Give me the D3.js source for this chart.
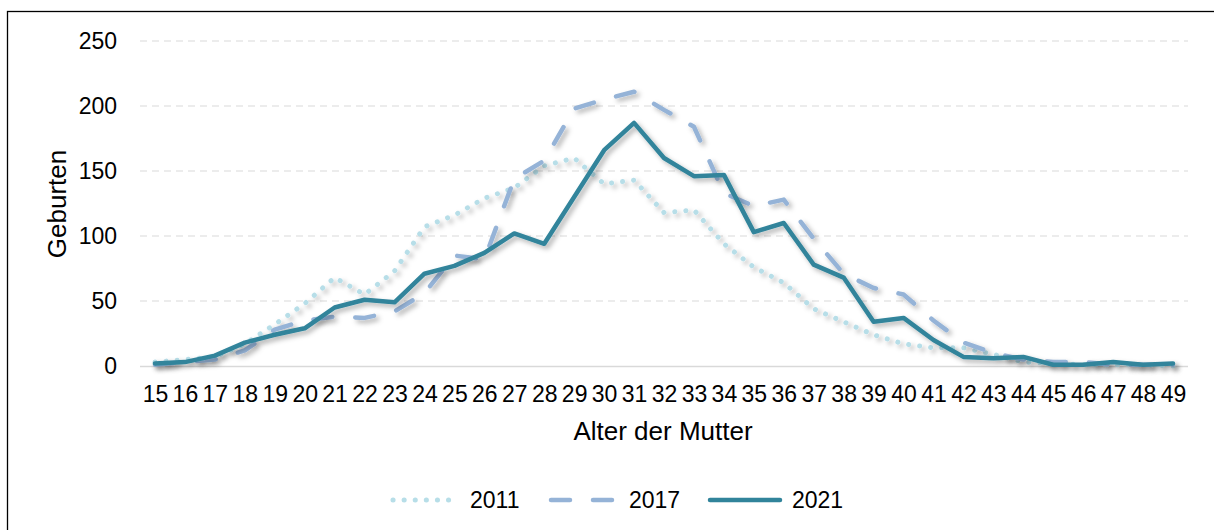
<!DOCTYPE html>
<html>
<head>
<meta charset="utf-8">
<script src="https://cdn.jsdelivr.net/npm/d3@7"></script>
<style>
    body { margin: 0; background: #fff; }
    svg { display: block; font-family: "Liberation Sans", Arial, sans-serif; }
</style>
</head>
<body>
<div class="births_by_age"></div>
<script>
// data
const ages = d3.range(15, 50).map(String);
const years = ["2011", "2017", "2021"];
const births_2011 = [3, 5, 7, 17, 32, 48, 68, 55, 73, 107, 116, 129, 137, 154, 160, 140, 143, 118, 120, 94, 76, 64, 44, 34, 24, 17, 14, 14, 9, 3, 2, 1, 1, 1, 0];
const births_2017 = [1, 3, 5, 12, 28, 35, 38, 37, 42, 56, 85, 82, 144, 158, 198, 205, 211, 197, 184, 133, 123, 128, 98, 71, 60, 55, 35, 18, 10, 5, 3, 3, 1, 1, 1];
const births_2021 = [2, 3, 8, 18, 24, 29, 45, 51, 49, 71, 77, 87, 102, 94, 130, 166, 187, 160, 146, 147, 103, 110, 78, 68, 34, 37, 20, 7, 6, 7, 1, 1, 3, 1, 2];
const y_ticks = [0, 50, 100, 150, 200, 250];

const render_births = (name, config) => {
    let d3_container = `.${name}`;
    d3.select(`${d3_container} > *`).remove();

    const width = config.width, height = config.height;
    const plot = { left: 140, right: 1188, top: 41, bottom: 366 };

    let svg = d3.select(d3_container).append('svg')
        .attr("width", width)
        .attr("height", height);

    // drop shadow like the office chart
    svg.append("defs").append("filter")
        .attr("id", "shadow")
        .attr("x", "-5%").attr("y", "-10%")
        .attr("width", "110%").attr("height", "130%")
        .append("feDropShadow")
            .attr("dx", 3).attr("dy", 3)
            .attr("stdDeviation", 2.5)
            .attr("flood-color", "#000")
            .attr("flood-opacity", 0.3);

    // frame
    svg.append("rect")
        .attr("x", 7.5).attr("y", 11.5)
        .attr("width", width).attr("height", height)
        .attr("fill", "none")
        .attr("stroke", "#000")
        .attr("stroke-width", 1.3);

    const x = d3.scalePoint()
        .domain(ages)
        .range([plot.left, plot.right])
        .padding(0.5);

    const y = d3.scaleLinear()
        .domain([0, 250])
        .range([plot.bottom, plot.top]);

    // grid lines
    svg.append("g")
        .selectAll("line")
        .data(y_ticks.filter(t => t > 0))
        .join("line")
            .attr("x1", plot.left).attr("x2", plot.right)
            .attr("y1", d => y(d)).attr("y2", d => y(d))
            .attr("stroke", "#d9d9d9")
            .attr("stroke-width", 1)
            .attr("stroke-dasharray", "7 5");

    // Y axis
    let y_axis = svg.append("g")
        .attr("transform", `translate(${plot.left},0)`)
        .call(d3.axisLeft(y).tickValues(y_ticks).tickSize(0).tickPadding(23));
    y_axis.select(".domain").remove();
    y_axis.selectAll("text")
        .attr("font-size", 23)
        .attr("font-family", "Liberation Sans, Arial, sans-serif")
        .attr("fill", "#000");

    // X axis
    let x_axis = svg.append("g")
        .attr("transform", `translate(0,${plot.bottom})`)
        .call(d3.axisBottom(x).tickSize(0).tickPadding(20));
    x_axis.select(".domain")
        .attr("d", `M${plot.left},0.5H${plot.right}`)
        .attr("stroke", "#d9d9d9")
        .attr("stroke-width", 1.5);
    x_axis.selectAll("text")
        .attr("font-size", 23)
        .attr("font-family", "Liberation Sans, Arial, sans-serif")
        .attr("fill", "#000");

    // axis titles
    svg.append("text")
        .attr("x", 663)
        .attr("y", 440)
        .attr("text-anchor", "middle")
        .attr("font-size", 26)
        .text("Alter der Mutter");

    svg.append("text")
        .attr("transform", `translate(66,204) rotate(-90)`)
        .attr("text-anchor", "middle")
        .attr("font-size", 26)
        .text("Geburten");

    // series
    const series = [
        { year: years[0], values: births_2011, color: "#b7dee8", dash: "0.1 11", w: 5 },
        { year: years[1], values: births_2017, color: "#95b3d7", dash: "19 23", w: 4.5 },
        { year: years[2], values: births_2021, color: "#31849b", dash: null, w: 4.5 }
    ];

    const line = d3.line()
        .x((d, i) => x(ages[i]))
        .y(d => y(d));

    svg.append("g")
        .selectAll("path")
        .data(series)
        .join("path")
            .attr("fill", "none")
            .attr("stroke", d => d.color)
            .attr("stroke-width", d => d.w)
            .attr("stroke-linecap", "round")
            .attr("stroke-linejoin", "round")
            .attr("stroke-dasharray", d => d.dash)
            .attr("filter", "url(#shadow)")
            .attr("d", d => line(d.values));

    // legend
    const legend_x = [393, 551, 710];
    const legend_len = [65, 66, 70];
    let legend = svg.append("g")
        .selectAll("g")
        .data(series)
        .join("g")
            .attr("transform", (d, i) => `translate(${legend_x[i]},500)`);
    legend.append("line")
        .attr("x1", 0).attr("x2", (d, i) => legend_len[i])
        .attr("stroke", d => d.color)
        .attr("stroke-width", d => d.w)
        .attr("stroke-linecap", "round")
        .attr("stroke-dasharray", d => d.dash);
    legend.append("text")
        .attr("x", (d, i) => legend_len[i] + 12)
        .attr("y", 8)
        .attr("font-size", 23)
        .text(d => d.year);
};

render_births("births_by_age", { width: 1214, height: 530 });
</script>
</body>
</html>
